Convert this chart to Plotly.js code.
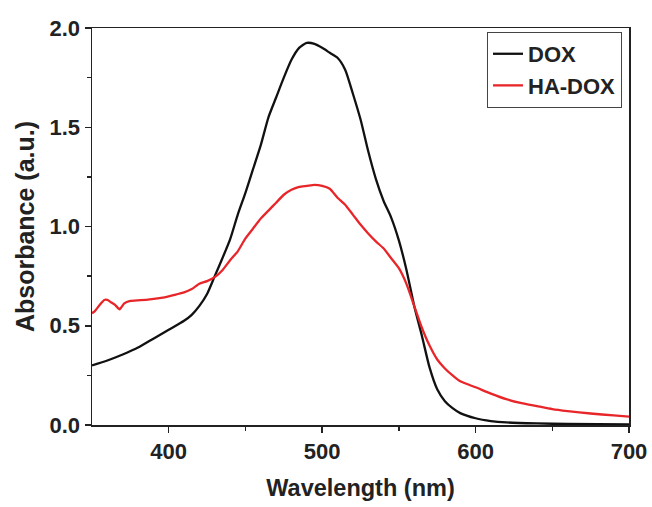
<!DOCTYPE html>
<html>
<head>
<meta charset="utf-8">
<script src="https://cdn.plot.ly/plotly-3.0.1.min.js"></script>
<style>html,body{margin:0;padding:0;background:#fff;}#chart{width:652px;height:507px;}</style>
</head>
<body>
<div id="chart"></div>
<script>
const doxWavelength = [350,360,370,380,390,400,410,415,420,425,430,435,440,445,450,455,460,465,470,475,480,485,490,495,500,505,510,515,520,525,530,535,540,545,550,555,560,565,570,575,580,585,590,600,610,620,640,660,700];
const doxAbs = [0.30,0.325,0.355,0.39,0.435,0.48,0.525,0.555,0.60,0.66,0.75,0.84,0.935,1.06,1.17,1.29,1.41,1.55,1.65,1.75,1.84,1.90,1.925,1.92,1.90,1.875,1.85,1.79,1.67,1.54,1.38,1.24,1.13,1.045,0.93,0.78,0.60,0.45,0.29,0.18,0.12,0.085,0.06,0.034,0.02,0.013,0.008,0.005,0.003];

const haWavelength = [350,352,355,358,360,362,365,368,371,375,380,385,390,395,400,405,410,415,420,425,430,435,440,445,450,455,460,465,470,475,480,485,490,495,500,505,510,515,520,525,530,535,540,545,550,555,560,565,570,575,580,585,590,600,610,620,630,640,650,660,675,690,700];
const haAbs = [0.563,0.575,0.605,0.63,0.63,0.62,0.605,0.583,0.613,0.625,0.628,0.63,0.635,0.64,0.648,0.658,0.668,0.685,0.712,0.725,0.745,0.78,0.83,0.875,0.94,0.99,1.04,1.08,1.12,1.16,1.185,1.20,1.205,1.21,1.205,1.19,1.145,1.11,1.06,1.01,0.965,0.925,0.89,0.84,0.79,0.71,0.60,0.49,0.40,0.33,0.285,0.25,0.22,0.19,0.158,0.13,0.11,0.095,0.08,0.07,0.058,0.048,0.042];

const seriesNames = ['DOX', 'HA-DOX'];
const xTickVals = [400, 500, 600, 700];
const yTickVals = [0.0, 0.5, 1.0, 1.5, 2.0];

const FONT = 'Liberation Sans, Arial, sans-serif';

const traces = [
  {x: doxWavelength, y: doxAbs, name: seriesNames[0], mode: 'lines',
   line: {color: '#111111', width: 2.3, shape: 'spline', smoothing: 0.6}},
  {x: haWavelength, y: haAbs, name: seriesNames[1], mode: 'lines',
   line: {color: '#e8262a', width: 2.3, shape: 'spline', smoothing: 0.5}}
];

const axisCommon = {
  showline: true, mirror: true, linecolor: '#222', linewidth: 1.5,
  ticks: 'outside', ticklen: 6, tickwidth: 1.5, tickcolor: '#222',
  showgrid: false, zeroline: false,
  tickfont: {family: FONT, size: 22, color: '#222', weight: 'bold'}
};

const layout = {
  width: 652, height: 507,
  margin: {l: 92, r: 23, t: 28, b: 82},
  paper_bgcolor: '#fff', plot_bgcolor: '#fff',
  showlegend: true,
  legend: {
    x: 0.987, y: 0.99, xanchor: 'right', yanchor: 'top',
    bordercolor: '#444', borderwidth: 1, bgcolor: 'rgba(255,255,255,0)',
    font: {family: FONT, size: 22, color: '#222', weight: 'bold'}
  },
  xaxis: Object.assign({}, axisCommon, {
    range: [350, 700], tickvals: xTickVals,
    minor: {ticks: 'outside', ticklen: 4, tickwidth: 1.5, tickcolor: '#222', tickvals: [450, 550, 650]},
    title: {text: 'Wavelength (nm)', standoff: 16, font: {family: FONT, size: 23.5, color: '#222', weight: 'bold'}}
  }),
  yaxis: Object.assign({}, axisCommon, {
    range: [0, 2.0], tickvals: yTickVals, tickformat: '.1f',
    minor: {ticks: 'outside', ticklen: 4, tickwidth: 1.5, tickcolor: '#222', tickvals: [0.25, 0.75, 1.25, 1.75]},
    title: {text: 'Absorbance (a.u.)', standoff: 8, font: {family: FONT, size: 25, color: '#222', weight: 'bold'}}
  })
};

Plotly.newPlot('chart', traces, layout, {displayModeBar: false, staticPlot: true});
</script>
</body>
</html>
